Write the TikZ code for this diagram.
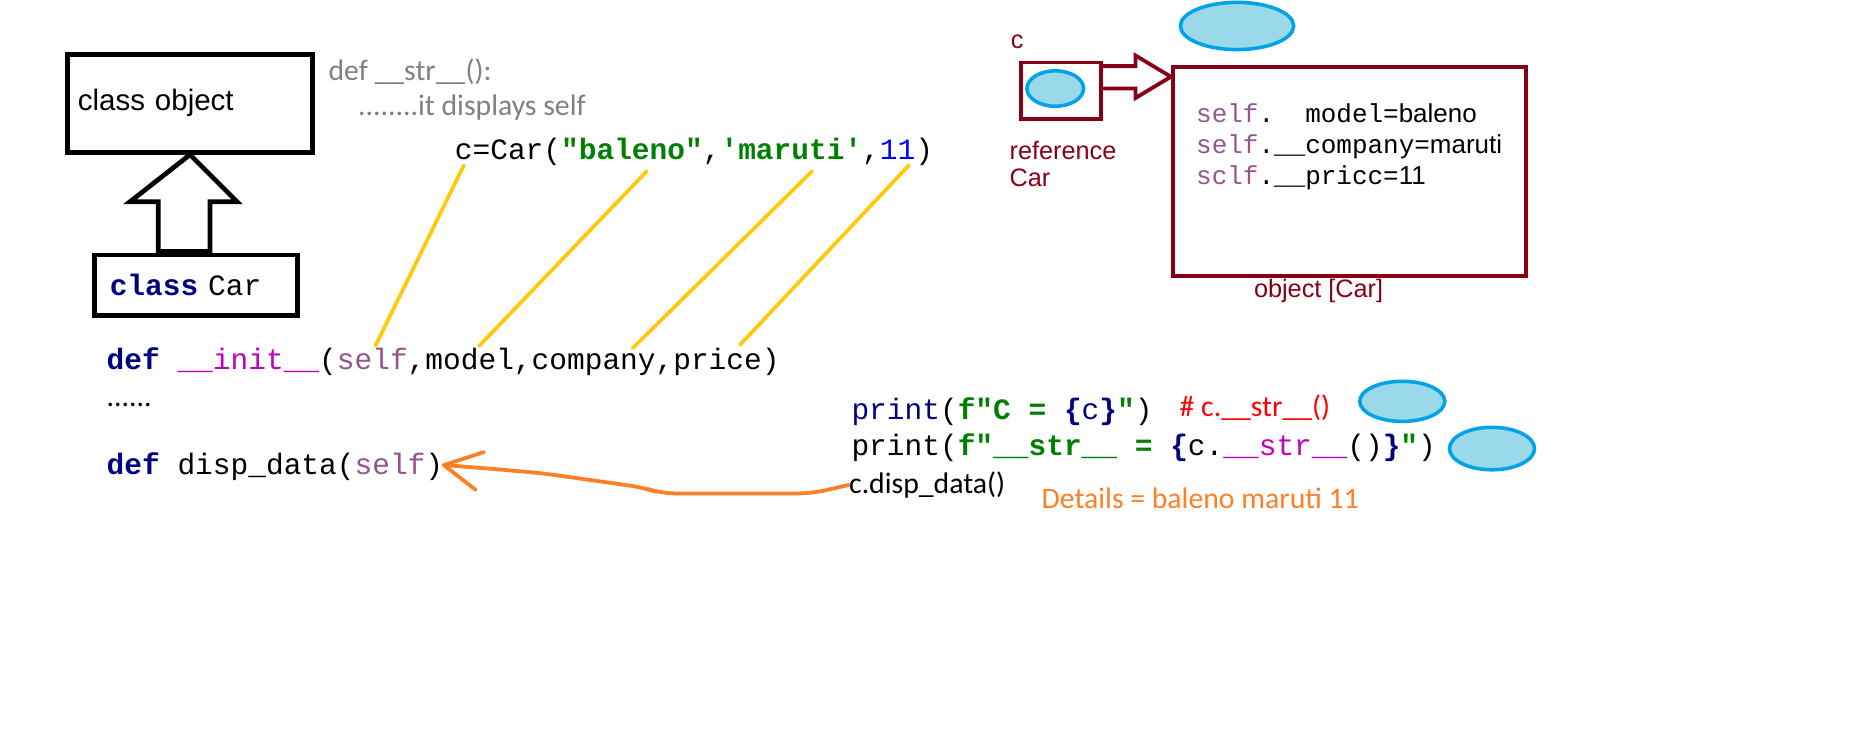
\documentclass[tikz,border=0pt]{standalone}
\usepackage{fontspec}
\setmainfont{Liberation Sans}
\setmonofont{Liberation Mono}
\newfontfamily\calibri{Carlito}
\usetikzlibrary{shapes.geometric}

\definecolor{kwnavy}{HTML}{000080}
\definecolor{selfpurple}{HTML}{94558D}
\definecolor{magicpink}{HTML}{C000C0}
\definecolor{strgreen}{HTML}{008000}
\definecolor{numblue}{HTML}{0000FF}
\definecolor{refred}{HTML}{880015}
\definecolor{blobfill}{HTML}{99D9EA}
\definecolor{blobline}{HTML}{00A2E8}
\definecolor{linkyellow}{HTML}{FFC90E}
\definecolor{callorange}{HTML}{FF7F27}
\definecolor{notegray}{HTML}{808080}
\definecolor{hintred}{HTML}{FF0000}

\newcommand{\pykw}[1]{{\bfseries\color{kwnavy}#1}}
\newcommand{\pyself}{{\color{selfpurple}self}}
\newcommand{\pymagic}[1]{{\color{magicpink}#1}}
\newcommand{\pystr}[1]{{\bfseries\color{strgreen}#1}}
\newcommand{\pybrace}[1]{{\bfseries\color{kwnavy}#1}}

\begin{document}
\begin{tikzpicture}[x=0.5pt,y=-0.5pt,
		thickbox/.style={draw, line width=2pt},
		refbox/.style={draw=refred, line width=1.6pt},
		blob/.style={ellipse, draw=blobline, fill=blobfill, line width=1.5pt, inner sep=0},
		link/.style={draw=linkyellow, line width=1.6pt, line cap=round},
		callback/.style={draw=callorange, line width=1.6pt, line cap=round, line join=round},
		codetext/.style={font=\fontsize{12.5}{15}\ttfamily},
		notetext/.style={font=\fontsize{12.6}{15}\calibri},
		reflabel/.style={font=\fontsize{10.7}{13}\selectfont, text=refred},
		attrtext/.style={font=\fontsize{11}{13}\ttfamily}]

	\useasboundingbox (0,0) rectangle (1569,629);

	% class boxes
	\node (clsobj) [thickbox, anchor=north west, minimum width=104pt, minimum height=41.5pt,
		inner xsep=4pt, text width=95pt, align=left, font=\fontsize{12.5}{15}\selectfont] at (55,44) {class object};
	\node (clscar) [thickbox, anchor=north west, minimum width=86pt, minimum height=25.5pt,
		inner xsep=6pt, text width=73pt, align=left, codetext] at (78,214) {\pykw{class} Car};
	\draw[thickbox, line join=miter] (clsobj.south) -- (201,171) -- (178,171) -- (178,213)
		-- (134,213) -- (134,171) -- (110,171) -- cycle;

	\begin{scope}[every node/.style={inner sep=0, anchor=base west}]
		\node (strdef) [notetext, text=notegray] at (278,68) {def \_\_str\_\_():};
		\node (strnote) [notetext, text=notegray] at (303,98) {........it displays self};
		\node (carcall) [codetext] at (385,135)
			{c=Car(\pystr{"baleno"},\pystr{'maruti'},{\color{numblue}11})};
		\node (initdef) [codetext] at (90,313)
			{\pykw{def} \pymagic{\_\_init\_\_}(\pyself,model,company,price)};
		\node (dots) [notetext] at (90,344) {......};
		\node (dispdef) [codetext] at (90,402) {\pykw{def} disp\_data(\pyself)};

		\node (print1) [codetext] at (721,355)
			{{\color{kwnavy}print}(\pystr{f"C = }\pybrace{\{}{\color{kwnavy}c}\pybrace{\}}\pystr{"})};
		\node (print2) [codetext] at (721,386)
			{print(\pystr{f"\_\_str\_\_ = }\pybrace{\{}c.\pymagic{\_\_str\_\_}()\pybrace{\}}\pystr{"})};
		\node (strhint) [notetext, text=hintred] at (999,353) {\# c.\_\_str\_\_()};
		\node (dispcall) [notetext] at (719,418) {c.disp\_data()};
		\node (details) [notetext, text=callorange] at (882,431) {Details = baleno maruti 11};

		\node (cname) [reflabel] at (856,41) {c};
		\node (cref) [reflabel] at (855,135) {reference};
		\node (ccar) [reflabel] at (855,158) {Car};
		\node (objlabel) [reflabel] at (1062,252) {object [Car]};

		\node (attr1) [attrtext] at (1013,104) {\pyself.\ \ model={\rmfamily baleno}};
		\node (attr2) [attrtext] at (1013,130) {\pyself.\_\_company={\rmfamily maruti}};
		\node (attr3) [attrtext] at (1013,156) {{\color{selfpurple}sclf}.\_\_pricc={\rmfamily 11}};
	\end{scope}

	% reference and object
	\node (cvar) [refbox, minimum width=34pt, minimum height=24pt] at (899,77) {};
	\node (cblob) [blob, minimum width=24pt, minimum height=15pt] at (894,75) {};
	\node (objbox) [refbox, anchor=north west, minimum width=149.5pt, minimum height=88.5pt] at (992,55) {};
	\node (objblob) [blob, minimum width=48pt, minimum height=20pt] at (1048,22) {};
	\draw[refbox, line join=miter] (933,56) -- (962,56) -- (962,47) -- (objbox.north west |- 0,65)
		-- (962,83) -- (962,75) -- (933,75);

	\node (strblob) [blob, minimum width=36pt, minimum height=17pt] at (1188,340) {};
	\node (callblob) [blob, minimum width=36pt, minimum height=18pt] at (1264,380) {};

	% arguments to parameters
	\coordinate (argc) at (393,140);
	\coordinate (argmodel) at (548,145);
	\coordinate (argcomp) at (688,145);
	\coordinate (argprice) at (770,140);
	\coordinate (parself) at (318,293);
	\coordinate (parmodel) at (406,293);
	\coordinate (parcomp) at (536,295);
	\coordinate (parprice) at (627,292);
	\draw[link] (argc) -- (parself);
	\draw[link] (argmodel) -- (parmodel);
	\draw[link] (argcomp) -- (parcomp);
	\draw[link] (argprice) -- (parprice);

	% call goes back to the method
	\coordinate (calltip) at (376,394);
	\draw[callback, rounded corners=6] (dispcall.west) -- (688,418) -- (560,418) -- (545,413)
		-- (460,401) -- (415,397) -- (calltip);
	\draw[callback] (calltip) -- (410,383);
	\draw[callback] (calltip) -- (403,415);
\end{tikzpicture}
\end{document}
